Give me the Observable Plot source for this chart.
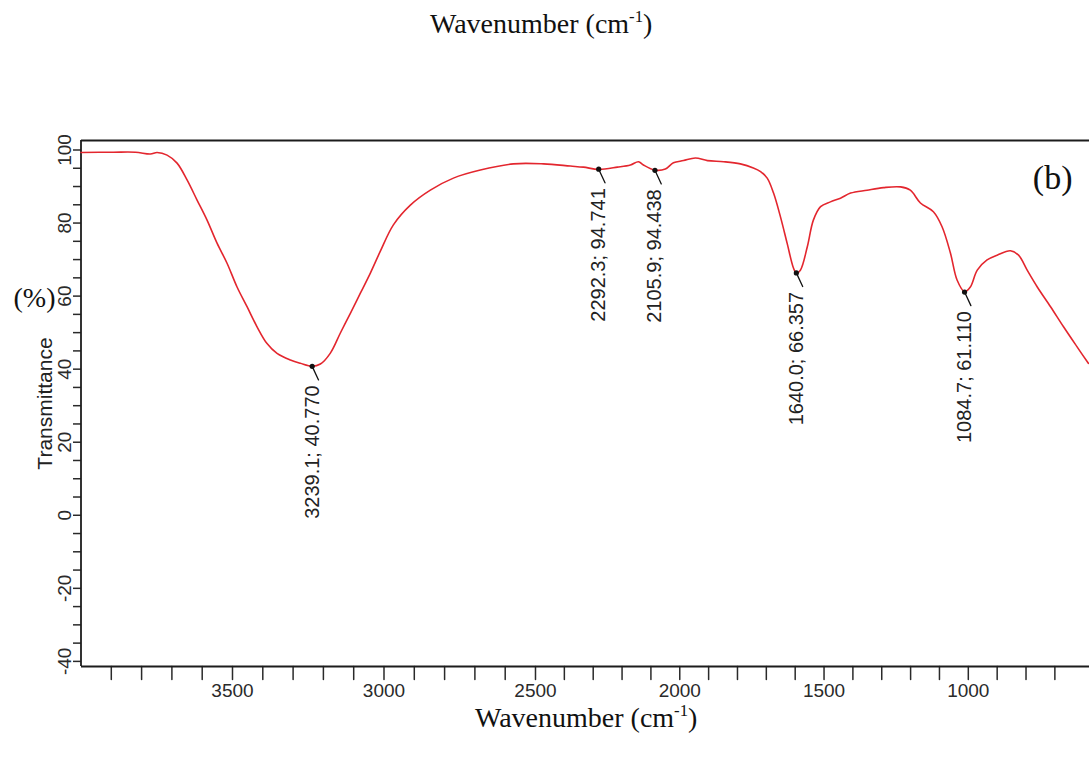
<!DOCTYPE html>
<html><head><meta charset="utf-8">
<script src="https://cdn.jsdelivr.net/npm/d3@7"></script>
<script src="https://cdn.jsdelivr.net/npm/@observablehq/plot@0.6"></script>
<style>
body{margin:0;background:#fff;width:1089px;height:764px;position:relative;overflow:hidden}
#chart{position:absolute;left:0;top:0}
.cap{position:absolute;font-family:"Liberation Serif","Times New Roman",serif;font-size:28px;line-height:1;color:#111;white-space:nowrap}
.cap sup{font-size:0.6em;vertical-align:0.65em;line-height:0}
#top{left:430px;top:10px}
#bottom{left:475px;top:704px}
</style></head><body>
<div id="chart"></div>
<div class="cap" id="top">Wavenumber (cm<sup>-1</sup>)</div>
<div class="cap" id="bottom">Wavenumber (cm<sup>-1</sup>)</div>
<script>
const wavenumber = [4000, 3893, 3820, 3771, 3749, 3716, 3683, 3650, 3617, 3584,
  3551, 3518, 3485, 3452, 3419, 3386, 3353, 3309, 3276, 3237,
  3210, 3177, 3144, 3111, 3078, 3045, 3012, 2969, 2913, 2847,
  2771, 2682, 2573, 2472, 2379, 2334, 2281, 2216, 2171, 2143,
  2126, 2086, 2050, 2022, 1987, 1946, 1904, 1848, 1790, 1745,
  1720, 1697, 1675, 1651, 1628, 1606, 1596, 1582, 1558, 1537,
  1512, 1478, 1443, 1408, 1351, 1294, 1235, 1201, 1166, 1121,
  1091, 1062, 1039, 1013, 993, 969, 935, 900, 854, 826,
  796, 761, 715, 670, 623, 584];
const transmittance = [99.3, 99.4, 99.4, 98.9, 99.3, 98.6, 96.4, 91.8, 86.3, 80.8,
  74.5, 69.0, 62.5, 57.1, 51.6, 47.0, 44.3, 42.5, 41.6, 40.8,
  41.4, 44.4, 49.9, 55.3, 60.8, 66.3, 72.3, 79.5, 84.9, 89.0,
  92.3, 94.5, 96.2, 96.2, 95.6, 95.3, 94.7, 95.3, 95.9, 96.8,
  95.9, 94.5, 94.8, 96.5, 97.1, 97.8, 97.1, 96.8, 96.2, 95.1,
  94.1, 92.3, 88.2, 81.7, 74.5, 67.7, 66.3, 67.1, 73.5, 80.8,
  84.5, 85.8, 86.8, 88.2, 89.0, 89.7, 89.9, 89.0, 85.5, 83.1,
  79.0, 71.8, 64.4, 61.2, 62.5, 67.1, 69.9, 71.2, 72.4, 71.2,
  67.1, 62.5, 57.1, 51.6, 46.1, 41.6];
const peakWavenumber = [3237, 2281, 2086, 1596, 1013];
const peakTransmittance = [40.770, 94.741, 94.438, 66.357, 61.110];
const peakLabels = ["3239.1; 40.770", "2292.3; 94.741", "2105.9; 94.438", "1640.0; 66.357", "1084.7; 61.110"];
const xTickLabels = [3500, 3000, 2500, 2000, 1500, 1000];
const xMinorTicks = d3.range(3900, 600, -100);
const yTickLabels = [-40, -20, 0, 20, 40, 60, 80, 100];
const yMinorTicks = d3.range(-40, 101, 5);

const spectrum = wavenumber.map((w, i) => ({w, t: transmittance[i]}));
const peaks = peakWavenumber.map((w, i) => ({w, t: peakTransmittance[i], label: peakLabels[i]}));

// the instrument's axis is compressed slightly below 2500 cm-1
const breakAt = 2500, squeeze = 0.9523;
const warp = w => w >= breakAt ? w : breakAt - (breakAt - w) * squeeze;

const sans = "'Liberation Sans', Arial, Helvetica, sans-serif";
const serif = "'Liberation Serif', 'Times New Roman', serif";
const ink = "#1c1c1c";
const axisInk = "#2a2a2a";
const stick = {draw(context, l) { context.moveTo(0, 0); context.lineTo(0, -l); }};

const chart = Plot.plot({
  width: 1089, height: 764,
  marginLeft: 81, marginRight: 0, marginTop: 140, marginBottom: 98,
  style: {fontFamily: sans, background: "white", color: ink, overflow: "visible"},
  x: {transform: warp, domain: [4000, warp(580)], range: [80.5, 1089], label: null, axis: null},
  y: {domain: [-41.4, 102.6], label: null},
  marks: [
    // x axis ticks and labels, positioned through the (warped) x scale
    Plot.vector(xMinorTicks, {x: d => d, frameAnchor: "bottom", length: 13, rotate: 180, anchor: "start", shape: stick, stroke: axisInk, strokeWidth: 1.5}),
    Plot.text(xTickLabels, {x: d => d, text: d => String(d), frameAnchor: "bottom", lineAnchor: "top", textAnchor: "middle", dy: 17, fontSize: 19, fill: axisInk}),
    Plot.axisY({ticks: yMinorTicks, tickSize: 8, tickPadding: 3, tickRotate: -90, fontSize: 19, color: axisInk, strokeWidth: 1.5,
      tickFormat: d => yTickLabels.includes(d) ? String(d) : ""}),
    Plot.ruleY([102.6], {stroke: ink, strokeWidth: 1.8}),
    Plot.ruleY([-41.4], {stroke: ink, strokeWidth: 1.8}),
    Plot.ruleX([4000], {stroke: ink, strokeWidth: 1.8}),
    Plot.line(spectrum, {x: "w", y: "t", stroke: "#e3262e", strokeWidth: 1.6, curve: "catmull-rom"}),
    Plot.vector(peaks, {x: "w", y: "t", length: 15, rotate: 155, anchor: "start", shape: stick, stroke: "#111", strokeWidth: 1.3}),
    Plot.dot(peaks, {x: "w", y: "t", r: 2.6, fill: "#111"}),
    Plot.text(peaks, {x: "w", y: "t", text: "label", rotate: -90, textAnchor: "end", dy: 19, fontSize: 20, fill: "#222"}),
    Plot.text(["Transmittance"], {frameAnchor: "left", textAnchor: "middle", lineAnchor: "middle", dx: -36, rotate: -90, fontSize: 21, fill: "#222"}),
    Plot.text(["(%)"], {frameAnchor: "top-left", textAnchor: "middle", lineAnchor: "middle", dx: -47, dy: 158, fontSize: 28, fontFamily: serif, fill: "#111"}),
    Plot.text(["(b)"], {frameAnchor: "top-right", textAnchor: "end", lineAnchor: "middle", dx: -17, dy: 38, fontSize: 34, fontFamily: serif, fill: "#111"})
  ]
});
document.getElementById("chart").append(chart);
</script>
</body></html>
